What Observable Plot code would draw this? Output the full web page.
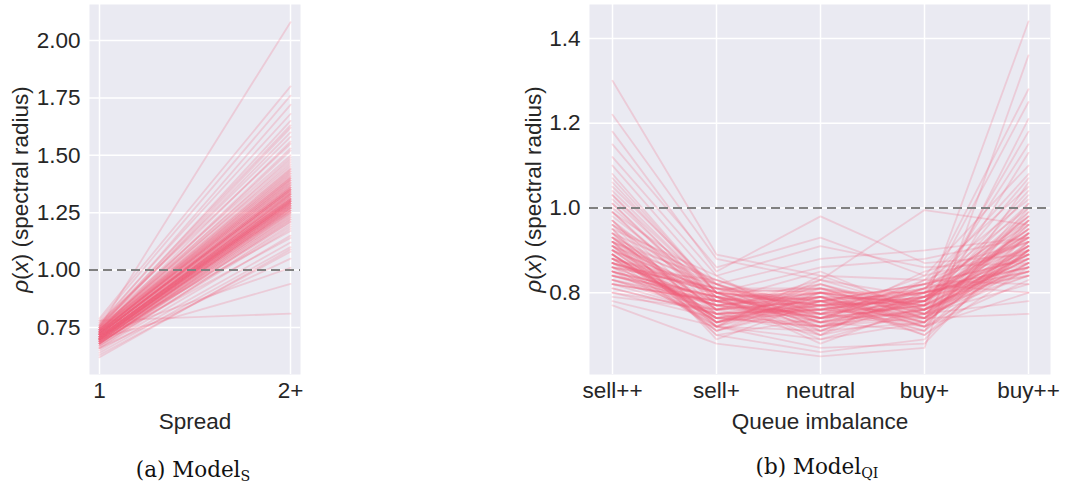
<!DOCTYPE html>
<html><head><meta charset="utf-8">
<script src="https://cdn.jsdelivr.net/npm/d3@7"></script>
<script src="https://cdn.jsdelivr.net/npm/@observablehq/plot@0.6"></script>
<style>
body{margin:0;background:#fff;width:1073px;height:482px;overflow:hidden;position:relative;font-family:"Liberation Sans",Arial,sans-serif}
.panel{position:absolute;top:0}
.cap{position:absolute;font-family:"DejaVu Serif",serif;font-size:21.5px;color:#111;text-align:center;white-space:nowrap;line-height:24px}
.cap sub{font-size:0.66em;vertical-align:-0.28em;line-height:0}
</style></head><body>
<div id="left" class="panel" style="left:0"></div>
<div id="right" class="panel" style="left:520px"></div>
<div class="cap" style="left:93px;width:200px;top:458px">(a) Model<sub>S</sub></div>
<div class="cap" style="left:717px;width:200px;top:455px">(b) Model<sub>QI</sub></div>
<script>
// ---- Panel (a): spread ----
const spreadCats = ["1", "2+"];
const spreadTicks = [0.75, 1.00, 1.25, 1.50, 1.75, 2.00];
const spread1 = [
0.70,0.72,0.68,0.74,0.71,0.69,0.73,0.75,0.67,0.70,
0.72,0.71,0.69,0.74,0.76,0.68,0.70,0.73,0.71,0.66,
0.72,0.75,0.70,0.69,0.73,0.71,0.68,0.74,0.77,0.70,
0.72,0.69,0.71,0.73,0.67,0.75,0.70,0.72,0.68,0.74,
0.71,0.73,0.69,0.70,0.76,0.72,0.68,0.71,0.74,0.70,
0.65,0.73,0.71,0.69,0.72,0.75,0.70,0.68,0.73,0.71,
0.74,0.69,0.72,0.70,0.77,0.67,0.71,0.73,0.70,0.72,
0.69,0.74,0.71,0.68,0.75,0.70,0.72,0.73,0.66,0.71,
0.70,0.74,0.72,0.69,0.73,0.71,0.76,0.68,0.70,0.72,
0.64,0.78,0.73,0.63,0.75,0.71,0.69,0.74,0.72,0.70,
0.78,0.79,0.72,0.74,0.70,0.71,0.73,0.69,0.66,0.75,
0.72,0.70,0.68,0.73,0.71,0.74,0.62,0.76,0.70,0.72
];
const spread2 = [
1.30,1.35,1.25,1.40,1.32,1.28,1.38,1.45,1.22,1.31,
1.36,1.29,1.27,1.42,1.50,1.24,1.33,1.37,1.30,1.20,
1.34,1.48,1.28,1.26,1.39,1.31,1.23,1.41,1.55,1.29,
1.35,1.26,1.32,1.38,1.18,1.46,1.30,1.36,1.25,1.43,
1.31,1.40,1.27,1.29,1.58,1.34,1.21,1.32,1.44,1.30,
1.12,1.39,1.33,1.27,1.35,1.62,1.28,1.24,1.37,1.31,
1.47,1.26,1.34,1.29,1.68,1.19,1.33,1.41,1.28,1.36,
1.27,1.52,1.30,1.23,1.65,1.29,1.35,1.38,1.15,1.32,
1.28,1.44,1.36,1.26,1.40,1.31,1.72,1.22,1.30,1.34,
1.10,1.76,1.42,1.08,1.60,1.33,1.25,1.49,1.37,1.29,
0.81,1.80,1.01,1.56,0.94,1.17,1.39,1.14,1.05,2.08,
1.33,1.27,1.21,1.43,1.30,1.53,1.09,1.63,1.31,1.35
];

// ---- Panel (b): queue imbalance ----
const qiCats = ["sell++", "sell+", "neutral", "buy+", "buy++"];
const qiTicks = [0.8, 1.0, 1.2, 1.4];
const sellpp = [
0.88,0.92,0.85,0.97,0.90,0.83,1.02,0.87,0.94,0.80,
0.91,0.86,0.99,0.89,0.84,1.05,0.93,0.82,0.88,0.96,
0.90,0.85,1.01,0.87,0.92,0.79,0.95,0.89,0.84,1.07,
0.91,0.86,0.98,0.83,0.93,0.88,1.03,0.81,0.90,0.95,
0.87,0.92,0.84,1.00,0.89,0.86,0.97,0.82,0.94,0.88,
1.10,0.85,0.91,0.96,0.83,0.89,1.04,0.87,0.92,0.80,
0.93,0.86,0.99,0.84,0.90,1.06,0.88,0.82,0.95,0.91,
0.85,1.12,0.89,0.87,0.94,0.78,0.92,1.01,0.86,0.90,
0.83,0.97,0.88,1.08,0.91,0.85,0.93,0.89,1.15,0.84,
0.96,0.87,0.90,1.18,0.82,0.94,0.88,1.22,0.86,0.91,
1.30,0.77,0.99,0.93,0.85,1.03,0.89,0.81,0.92,0.87
];
const sellp = [
0.75,0.81,0.73,0.78,0.80,0.76,0.79,0.72,0.83,0.74,
0.80,0.77,0.76,0.73,0.79,0.81,0.75,0.78,0.71,0.82,
0.74,0.79,0.77,0.80,0.72,0.76,0.84,0.73,0.78,0.80,
0.76,0.72,0.79,0.77,0.82,0.74,0.78,0.75,0.80,0.73,
0.81,0.70,0.77,0.79,0.74,0.83,0.72,0.78,0.76,0.80,
0.82,0.77,0.73,0.79,0.75,0.71,0.80,0.78,0.74,0.76,
0.72,0.81,0.77,0.79,0.73,0.80,0.75,0.78,0.69,0.82,
0.77,0.84,0.74,0.80,0.76,0.72,0.79,0.78,0.81,0.73,
0.78,0.75,0.82,0.80,0.71,0.79,0.76,0.74,0.86,0.77,
0.73,0.80,0.78,0.85,0.75,0.70,0.81,0.88,0.77,0.74,
0.89,0.68,0.82,0.76,0.79,0.80,0.72,0.75,0.83,0.78
];
const neutral = [
0.79,0.73,0.77,0.82,0.71,0.78,0.75,0.80,0.74,0.77,
0.72,0.79,0.83,0.76,0.74,0.78,0.70,0.81,0.77,0.73,
0.80,0.75,0.72,0.78,0.84,0.76,0.71,0.79,0.74,0.77,
0.82,0.78,0.68,0.80,0.75,0.72,0.79,0.77,0.73,0.81,
0.76,0.74,0.80,0.70,0.78,0.75,0.83,0.72,0.79,0.77,
0.74,0.81,0.78,0.69,0.76,0.80,0.73,0.85,0.75,0.78,
0.71,0.77,0.79,0.74,0.82,0.72,0.76,0.80,0.78,0.70,
0.75,0.91,0.73,0.78,0.80,0.67,0.76,0.74,0.81,0.79,
0.77,0.72,0.75,0.86,0.78,0.80,0.71,0.76,0.93,0.74,
0.79,0.77,0.73,0.98,0.76,0.66,0.80,0.83,0.75,0.72,
0.84,0.65,0.88,0.78,0.74,0.81,0.69,0.77,0.76,0.73
];
const buyp = [
0.78,0.76,0.80,0.74,0.79,0.82,0.73,0.77,0.75,0.81,
0.76,0.72,0.79,0.80,0.77,0.74,0.83,0.75,0.78,0.71,
0.80,0.77,0.74,0.82,0.76,0.79,0.73,0.70,0.81,0.78,
0.75,0.80,0.77,0.73,0.84,0.76,0.72,0.79,0.78,0.74,
0.82,0.77,0.75,0.79,0.71,0.80,0.76,0.78,0.73,0.81,
0.77,0.74,0.80,0.76,0.79,0.72,0.85,0.75,0.78,0.70,
0.80,0.78,0.73,0.81,0.76,0.79,0.74,0.77,0.82,0.75,
0.72,0.86,0.79,0.76,0.80,0.68,0.74,0.83,0.77,0.78,
0.75,0.81,0.78,0.88,0.73,0.77,0.80,0.76,0.84,0.79,
0.74,0.71,0.78,0.87,0.80,0.69,0.76,0.995,0.82,0.75,
0.83,0.67,0.90,0.77,0.81,0.78,0.73,0.72,0.79,0.76
];
const buypp = [
0.94,0.87,0.98,0.90,0.85,1.02,0.92,0.89,0.82,0.96,
0.88,1.00,0.93,0.86,0.91,0.97,1.05,0.84,0.95,0.90,
0.87,1.03,0.92,0.80,0.94,0.89,0.99,0.86,1.08,0.91,
0.96,0.85,0.93,0.90,1.10,0.88,0.83,0.95,1.01,0.87,
0.92,0.98,0.89,0.84,1.06,0.91,0.86,0.94,0.90,0.97,
0.85,1.13,0.93,0.88,0.99,0.87,0.92,0.78,1.04,0.90,
0.86,0.95,0.91,1.00,0.84,0.89,0.96,1.15,0.88,0.93,
0.97,0.87,0.90,1.18,0.85,0.94,0.75,0.92,0.89,1.07,
0.91,0.86,0.98,0.93,1.21,0.88,0.84,0.95,0.90,1.25,
0.87,0.94,0.97,0.89,1.28,0.92,0.85,0.96,0.88,0.91,
0.82,1.36,0.93,1.44,0.86,0.90,1.01,0.80,0.94,0.89
];

const yLabel = "ρ(x) (spectral radius)";
const lineColor = "#f0607d";
const bg = "#EAEAF2";
const font = "Liberation Sans, Arial, sans-serif";
const fs = 22.5;

const leftData = spread1.flatMap((v, i) => [
  {id: i, cat: spreadCats[0], v},
  {id: i, cat: spreadCats[1], v: spread2[i]}
]);
const qiSeries = [sellpp, sellp, neutral, buyp, buypp];
const rightData = sellpp.flatMap((_, i) => qiCats.map((c, k) => ({id: i, cat: c, v: qiSeries[k][i]})));

function panel({data, cats, ticks, fmt, yDomain, padding, width, marginLeft, marginRight, xLabel, yLabelDx}) {
  return Plot.plot({
    width, height: 440, marginLeft, marginRight, marginTop: 4, marginBottom: 66,
    style: {fontFamily: font, fontSize: fs + "px", color: "#262626", background: "transparent", overflow: "visible"},
    x: {type: "point", domain: cats, padding, axis: null},
    y: {domain: yDomain, axis: null},
    marks: [
      Plot.frame({fill: bg, stroke: "none"}),
      Plot.gridX(cats, {stroke: "#fff", strokeOpacity: 1, strokeWidth: 1.5}),
      Plot.gridY(ticks, {stroke: "#fff", strokeOpacity: 1, strokeWidth: 1.5}),
      Plot.line(data, {x: "cat", y: "v", z: "id", stroke: lineColor, strokeOpacity: 0.22, strokeWidth: 1.8}),
      Plot.ruleY([1], {stroke: "#808080", strokeWidth: 2, strokeDasharray: "9,5"}),
      Plot.axisX(cats, {tickSize: 0, tickPadding: 8, label: null, fontSize: fs, fill: "#262626"}),
      Plot.axisY(ticks, {tickSize: 0, tickPadding: 9, label: null, tickFormat: d3.format(fmt), fontSize: fs, fill: "#262626"}),
      Plot.text([xLabel], {text: d => d, frameAnchor: "bottom", dy: 47, fontSize: fs, fill: "#262626", textAnchor: "middle", lineAnchor: "middle"}),
      Plot.text([yLabel], {text: d => d, frameAnchor: "left", dx: yLabelDx, rotate: -90, fontSize: fs, fill: "#262626", textAnchor: "middle", lineAnchor: "middle"})
    ]
  });
}

const leftPlot = panel({data: leftData, cats: spreadCats, ticks: spreadTicks, fmt: ".2f", yDomain: [0.545, 2.157],
  padding: 0.05, width: 320, marginLeft: 89, marginRight: 20, xLabel: "Spread", yLabelDx: -69});
const rightPlot = panel({data: rightData, cats: qiCats, ticks: qiTicks, fmt: ".1f", yDomain: [0.607, 1.48],
  padding: 0.2, width: 553, marginLeft: 69, marginRight: 23, xLabel: "Queue imbalance", yLabelDx: -56});

document.getElementById("left").appendChild(leftPlot);
document.getElementById("right").appendChild(rightPlot);

// italicise the math part of the y label
document.querySelectorAll("svg text").forEach(t => {
  if (t.textContent === yLabel) {
    t.textContent = "";
    const ns = "http://www.w3.org/2000/svg";
    const parts = [["ρ", true], ["(", false], ["x", true], [") (spectral radius)", false]];
    for (const [s, it] of parts) {
      const ts = document.createElementNS(ns, "tspan");
      ts.textContent = s;
      if (it) ts.setAttribute("font-style", "italic");
      t.appendChild(ts);
    }
  }
});
</script>
</body></html>
